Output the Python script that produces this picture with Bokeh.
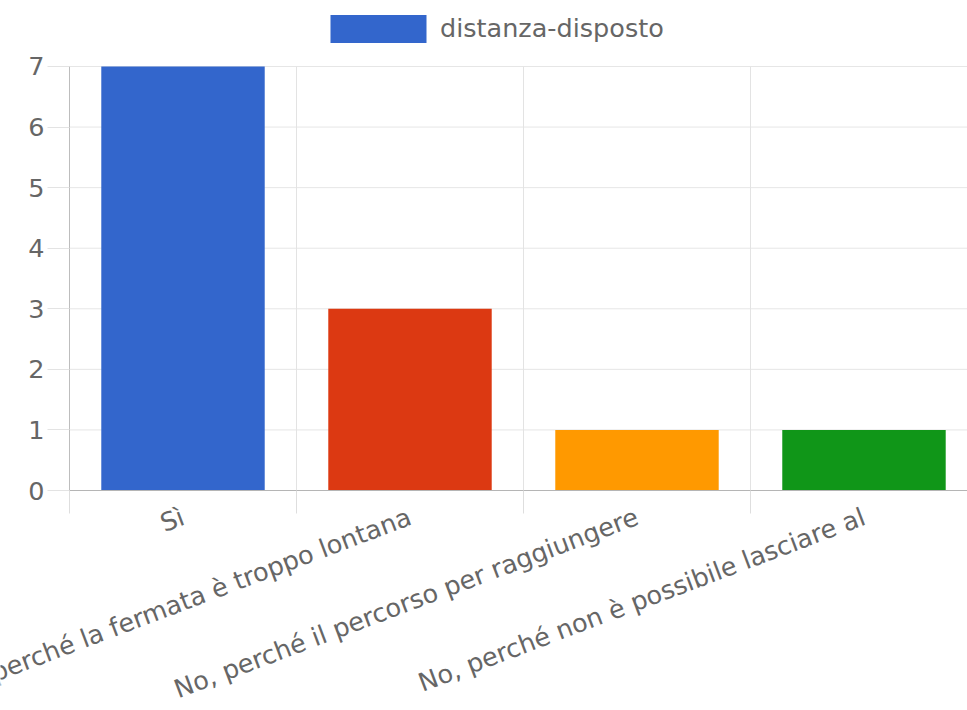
import math
from bokeh.plotting import figure
from bokeh.models import (ColumnDataSource, FixedTicker, LinearAxis, Range1d,
                          Legend, LegendItem)
from bokeh.embed import file_html
from bokeh.resources import INLINE

# ---- data ----
categories = [
    "Sì",
    "No, perché la fermata è troppo lontana",
    "No, perché il percorso per raggiungere",
    "No, perché non è possibile lasciare al",
]
counts = [7, 3, 1, 1]
bar_colors = ["#3366CC", "#DC3912", "#FF9900", "#109618"]
series_label = "distanza-disposto"
y_ticks = [0, 1, 2, 3, 4, 5, 6, 7]

FONT = "DejaVu Sans"
TEXT = "#666666"
FS = "25.5px"

positions = [i + 0.5 for i in range(len(categories))]
boundaries = list(range(len(categories) + 1))
source = ColumnDataSource(dict(x=positions, top=counts, color=bar_colors, cat=categories))

y_min, y_max = y_ticks[0], y_ticks[-1]
# the frame covers the whole canvas; both axes are pinned at the data origin
p = figure(width=967, height=710, output_backend="svg", toolbar_location=None,
           x_range=Range1d(-0.304, 3.956), y_range=Range1d(-3.632, 8.0896),
           x_axis_type=None,
           min_border_left=0, min_border_right=0, min_border_top=0, min_border_bottom=0)
p.outline_line_color = None
p.background_fill_color = "white"
p.border_fill_color = "white"
p.ygrid.visible = False

# horizontal grid lines over the category span
p.segment(x0=[boundaries[0]] * len(y_ticks), y0=y_ticks,
          x1=[boundaries[-1]] * len(y_ticks), y1=y_ticks,
          line_color="#e6e6e6", line_width=1)
# vertical grid lines at category boundaries (only over the value range)
p.segment(x0=boundaries[1:], y0=[y_min] * (len(boundaries) - 1),
          x1=boundaries[1:], y1=[y_max] * (len(boundaries) - 1),
          line_color="#e3e3e3", line_width=1)

r = p.vbar(x="x", top="top", bottom=0, width=0.72, fill_color="color",
           line_color=None, source=source)

# x axis: labels at category centres, tick marks at category boundaries
xaxis = LinearAxis(
    ticker=FixedTicker(ticks=positions, minor_ticks=boundaries),
    major_label_overrides={pos: cat for pos, cat in zip(positions, categories)},
    major_label_orientation=math.radians(20.7),
    fixed_location=y_min,
)
xaxis.major_tick_out = 0
xaxis.major_tick_in = 0
xaxis.minor_tick_out = 23
xaxis.minor_tick_in = 0
xaxis.minor_tick_line_color = "#dedede"
xaxis.axis_line_color = "#b5b5b5"
xaxis.bounds = (boundaries[0], boundaries[-1])
xaxis.major_label_text_font = FONT
xaxis.major_label_text_font_size = FS
xaxis.major_label_text_color = TEXT
xaxis.major_label_standoff = 2
p.add_layout(xaxis, "below")

# y axis
p.yaxis.fixed_location = boundaries[0]
p.yaxis.ticker = FixedTicker(ticks=y_ticks)
p.yaxis.bounds = (y_min, y_max)
p.yaxis.minor_tick_line_color = None
p.yaxis.major_tick_out = 22
p.yaxis.major_tick_in = 0
p.yaxis.major_tick_line_color = "#e3e3e3"
p.yaxis.axis_line_color = "#bdbdbd"
p.yaxis.major_label_text_font = FONT
p.yaxis.major_label_text_font_size = FS
p.yaxis.major_label_text_color = TEXT
p.yaxis.major_label_standoff = 3

legend = Legend(
    items=[LegendItem(label=series_label, renderers=[r], index=0)],
    location=(318, 664.5), orientation="horizontal",
    padding=0, margin=0, border_line_color=None, background_fill_alpha=0,
    glyph_width=120, glyph_height=35, label_standoff=2,
    label_text_font=FONT, label_text_font_size=FS, label_text_color=TEXT,
)
p.add_layout(legend)

open("out.html", "w").write(file_html(p, INLINE))
